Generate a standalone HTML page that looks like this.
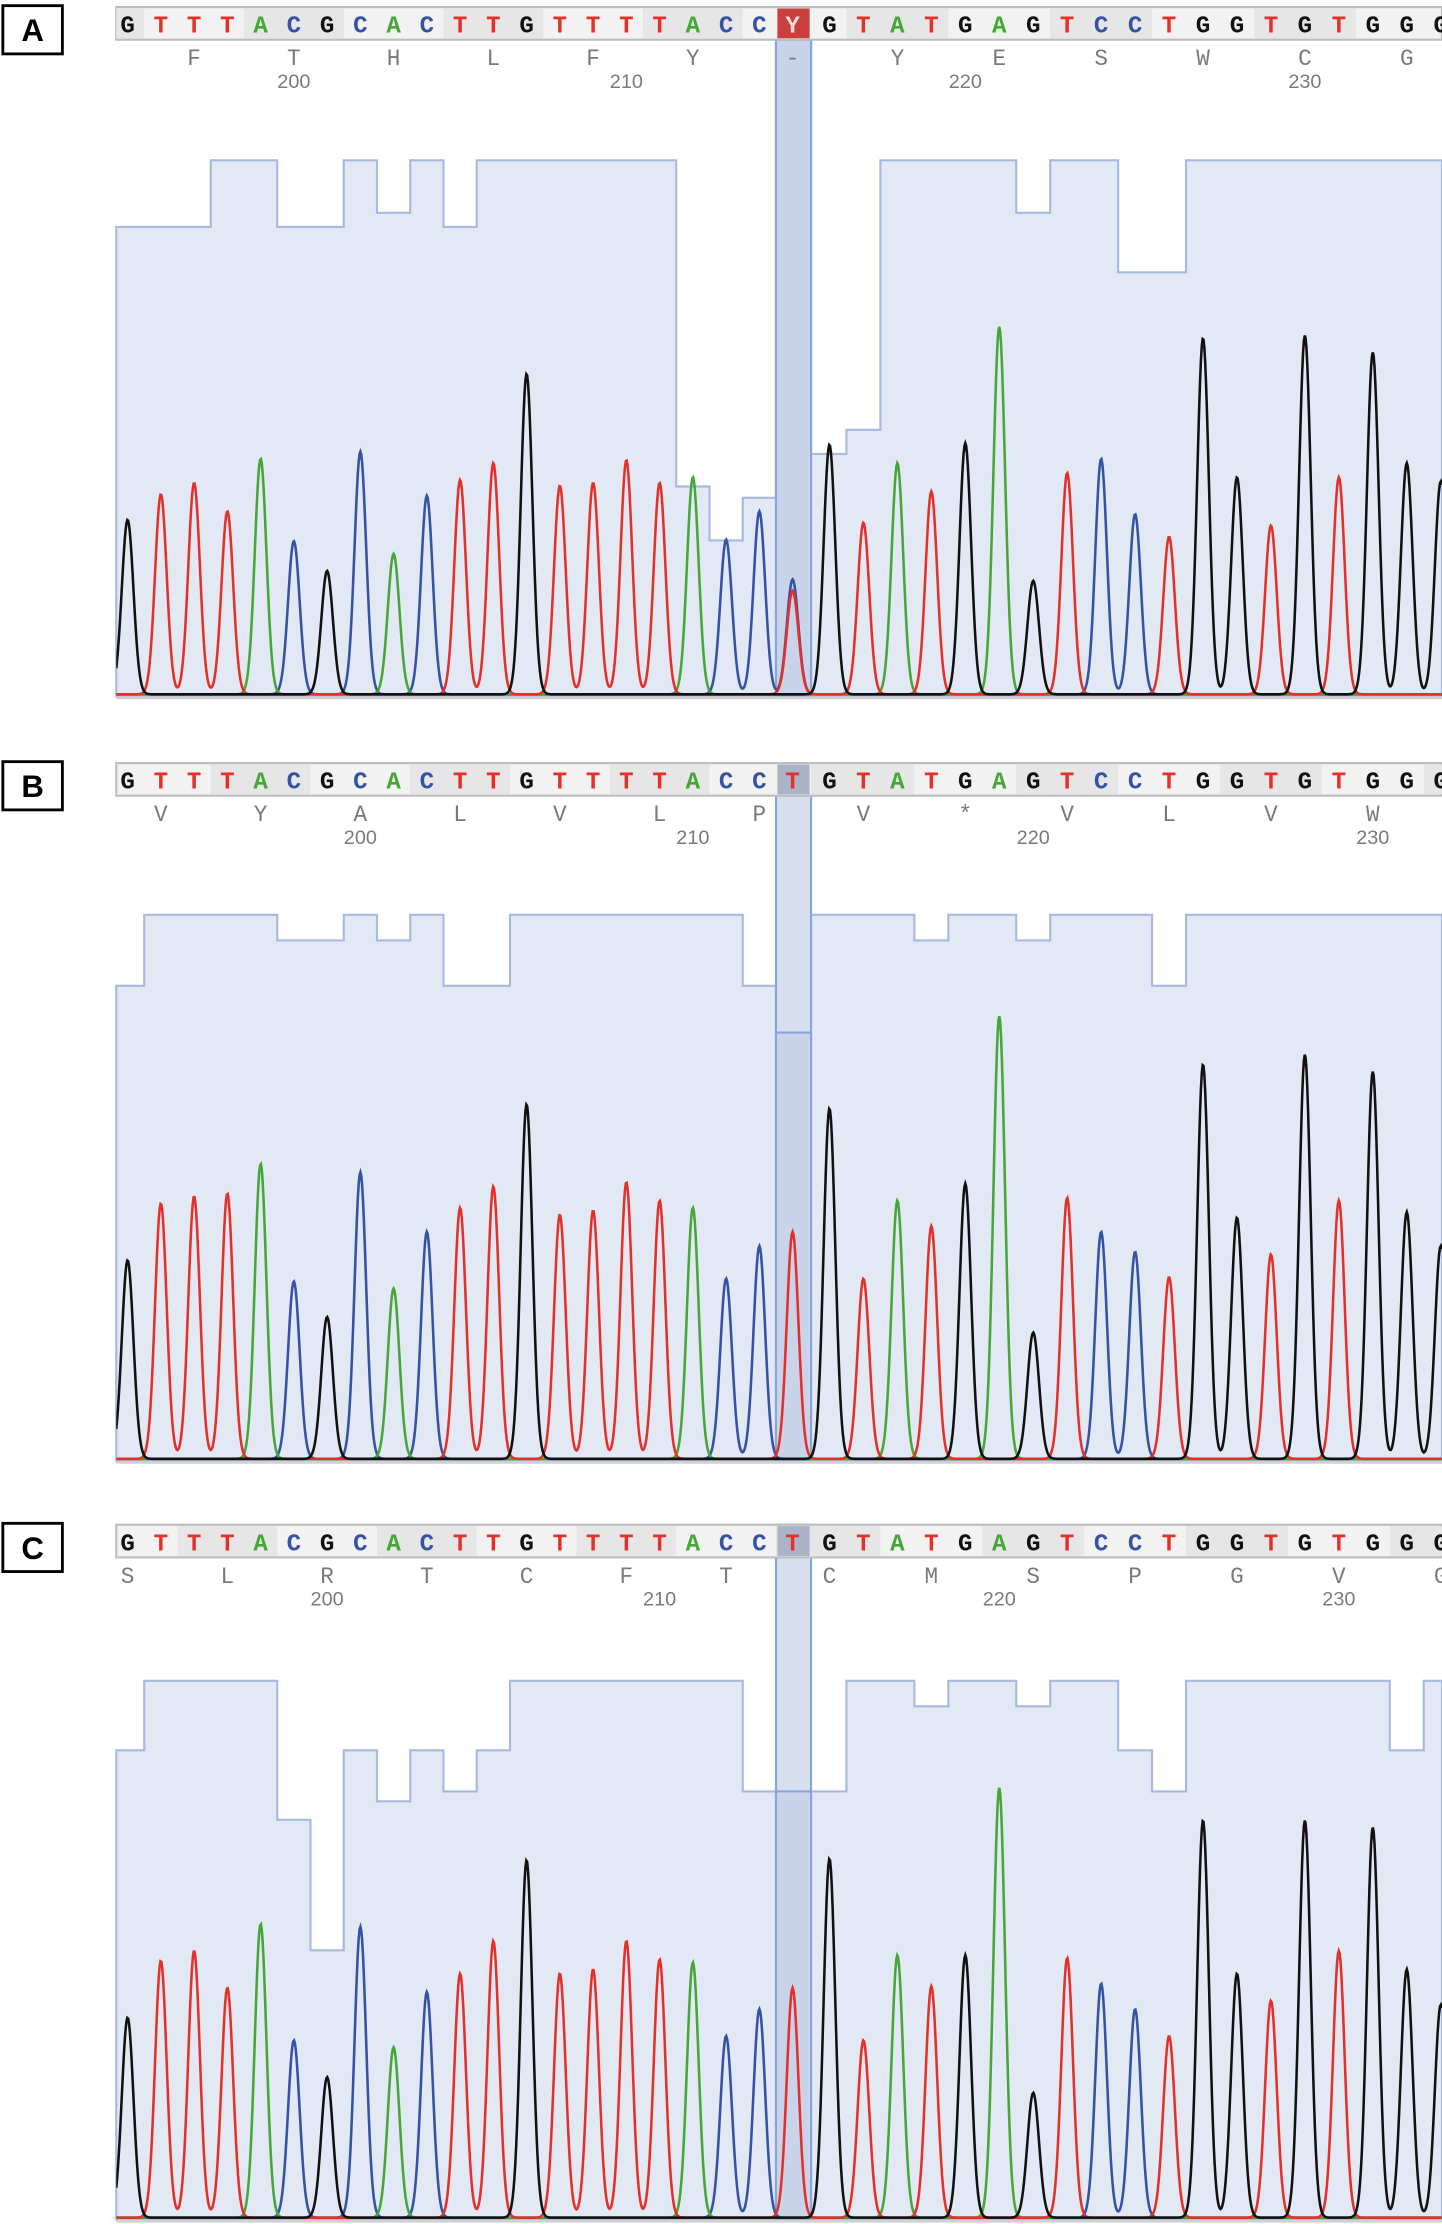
<!DOCTYPE html>
<html><head><meta charset="utf-8"><style>
html,body{margin:0;padding:0;background:#fff;}
svg{display:block;}
</style></head><body>
<svg id="chart" width="1442" height="2224" viewBox="0 0 1017 1568" preserveAspectRatio="none" xmlns="http://www.w3.org/2000/svg"></svg>
<script>
// ---- data ----
const basesA = "GTTTACGCACTTGTTTTACCYGTATGAGTCCTGGTGTGGG";
const basesB = "GTTTACGCACTTGTTTTACCTGTATGAGTCCTGGTGTGGG";
const basesC = "GTTTACGCACTTGTTTTACCTGTATGAGTCCTGGTGTGGG";
const peaksA = [123,141,149,129,166,108,87,171,99,140,151,163,226,147,149,165,149,153,109,129,81,176,121,163,143,177,259,80,156,166,127,111,251,153,119,253,153,241,163,150];
const peaksB = [140,180,185,187,208,125,100,202,120,160,177,192,250,172,175,195,182,177,127,150,160,247,127,182,164,194,312,89,184,160,146,128,278,170,144,285,182,273,174,150];
const peaksC = [141,181,188,162,207,125,99,205,120,159,172,195,252,172,175,195,182,180,128,147,162,253,125,185,163,185,303,88,183,165,147,128,280,172,153,280,188,275,175,150];
const secondaryA = [{i:20, base:"T", amp:73}];
const qualA = [331,331,331,378,378,331,331,378,341,378,331,378,378,378,378,378,378,148,110,140,463,171,188,378,378,378,378,341,378,378,299,299,378,378,378,378,378,378,378,378];
const qualB = [335,385,385,385,385,367,367,385,367,385,335,335,385,385,385,385,385,385,385,335,302,385,385,385,367,385,385,367,385,385,385,335,385,385,385,385,385,385,385,385];
const qualC = [331,380,380,380,380,282,190,331,295,331,302,331,380,380,380,380,380,380,380,302,302,302,380,380,362,380,380,362,380,380,331,302,380,380,380,380,380,380,331,380];
const aaA = ["F","T","H","L","F","Y","-","Y","E","S","W","C","G"];
const aaB = ["V","Y","A","L","V","L","P","V","*","V","L","V","W"];
const aaC = ["S","L","R","T","C","F","T","C","M","S","P","G","V","G"];
const numLabels = ["200","210","220","230"];

const NS="http://www.w3.org/2000/svg";
const svg=document.getElementById('chart');
const baseColor={A:"#47a638",C:"#3552a6",G:"#111111",T:"#e5302a",Y:"#ffffff"};
const X0=82, X1=1017;
function xScale(i){return i<=20 ? 90+i*23.45 : 585+(i-21)*23.95;}
function mk(tag,attrs,parent){const e=document.createElementNS(NS,tag);for(const k in attrs)e.setAttribute(k,attrs[k]);(parent||svg).appendChild(e);return e;}

const panels=[
 {label:"A",top:5,base:491,bases:basesA,peaks:peaksA,sec:secondaryA,qual:qualA,aa:aaA,aaStart:2,numStart:5,hl:"red"},
 {label:"B",top:538,base:1030,bases:basesB,peaks:peaksB,sec:[],qual:qualB,aa:aaB,aaStart:1,numStart:7,hl:"gray"},
 {label:"C",top:1075,base:1565,bases:basesC,peaks:peaksC,sec:[],qual:qualC,aa:aaC,aaStart:0,numStart:6,hl:"gray"}
];

panels.forEach((p,pi)=>{
  const g=mk('g',{});
  
  
  const lb=mk('rect',{x:2,y:p.top-1,width:42,height:34,fill:"#fff",stroke:"#000","stroke-width":2},g);
  
  
  const lt=mk('text',{x:23,y:p.top+24,"text-anchor":"middle","font-family":"Liberation Sans, sans-serif","font-size":22,"font-weight":"bold",fill:"#000"},g);
  lt.textContent=p.label;
  
  
  const n=p.bases.length;
  const edge=i=> i<=0?X0:(i>=n?X1:(xScale(i-1)+xScale(i))/2);
  let d="M"+X0+","+p.base;
  for(let i=0;i<n;i++){
    const y=p.base-p.qual[i];
    d+=" L"+edge(i)+","+y+" L"+edge(i+1)+","+y;
  }
  d+=" L"+X1+","+p.base+" Z";
  const qa=mk('path',{d:d,fill:"#e3e9f4",stroke:"#a7b9dc","stroke-width":1.5},g);
  
  
  const hx0=edge(20), hx1=edge(21);
  const col=mk('rect',{x:hx0,y:p.top,width:hx1-hx0,height:p.base-p.top,fill:"#d5dff0",stroke:"#8aa6d8","stroke-width":1.5},g);
  
  
  const qy=p.base-p.qual[20];
  const colq=mk('rect',{x:hx0,y:qy,width:hx1-hx0,height:p.base-qy,fill:"#c9d4ea",stroke:"#8aa6d8","stroke-width":1.5},g);
  
  
  const bar=mk('rect',{x:X0,y:p.top,width:X1-X0,height:23,fill:"#f2f2f2",stroke:"#bdbdbd","stroke-width":1.5},g);
  
  
  for(let i=0;i<n;i++){
    const l=edge(i), r=edge(i+1);
    if(Math.floor((i+3-p.aaStart+1)/3)%2==0){mk('rect',{x:l,y:p.top+1,width:r-l,height:21,fill:"#e6e6e6"},g);}
    const b=p.bases[i];
    if(i==20){
      mk('rect',{x:hx0+1,y:p.top+1,width:hx1-hx0-2,height:21,fill:p.hl=="red"?"#c9403c":"#aab4c6"},g);
    }
    const t=mk('text',{x:xScale(i),y:p.top+18,"text-anchor":"middle","font-family":"Liberation Mono, monospace","font-size":17,"font-weight":"bold",fill:(i==20&&p.hl=="red")?"#f4dcdc":baseColor[b]},g);
    t.textContent=b;
    
    
  }
  p.aa.forEach((a,k)=>{
    const t=mk('text',{x:xScale(p.aaStart+3*k),y:p.top+41,"text-anchor":"middle","font-family":"Liberation Mono, monospace","font-size":16,fill:"#7a7a7a"},g);
    t.textContent=a;
    
    
  });
  numLabels.forEach((s,k)=>{
    const t=mk('text',{x:xScale(p.numStart+10*k),y:p.top+57,"text-anchor":"middle","font-family":"Liberation Sans, sans-serif","font-size":14,fill:"#7a7a7a"},g);
    t.textContent=s;
    
    
  });
  mk('line',{x1:X0,y1:p.base+1,x2:X1,y2:p.base+1,stroke:"#d0d0d0","stroke-width":2},g);
  const clipId="clip"+pi;
  const cp=mk('clipPath',{id:clipId},g);
  mk('rect',{x:X0,y:p.top,width:X1-X0,height:p.base-p.top+4},cp);
  const sigma=4.1;
  ["C","A","T","G"].forEach(c=>{
    const pk=[];
    for(let i=0;i<n;i++){
      let b=p.bases[i]; if(b=="Y") b="C";
      if(b==c) pk.push([xScale(i),p.peaks[i]]);
    }
    p.sec.forEach(s=>{if(s.base==c) pk.push([xScale(s.i),s.amp]);});
    let dd="";
    for(let x=X0;x<=X1;x+=0.6){
      let v=1.5;
      pk.forEach(q=>{const dx=x-q[0];v+=q[1]*Math.exp(-dx*dx/(2*sigma*sigma));});
      dd+=(dd?" L":"M")+x.toFixed(1)+","+(p.base-v).toFixed(1);
    }
    const tr=mk('path',{d:dd,fill:"none",stroke:baseColor[c],"stroke-width":1.8,"clip-path":"url(#"+clipId+")"},g);
    
    
  });
});
</script>
</body></html>
